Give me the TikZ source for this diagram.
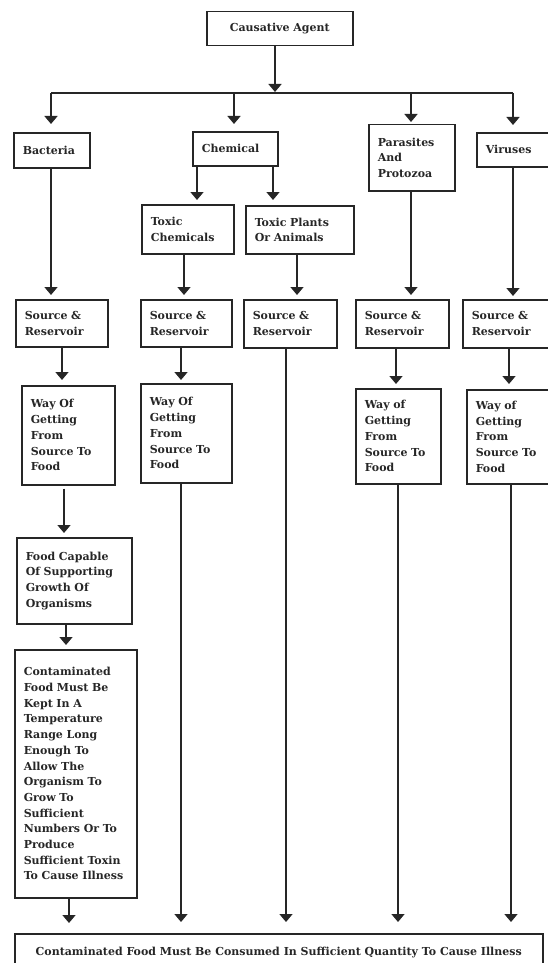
\documentclass[tikz,border=0pt]{standalone}
\usepackage{fontspec}
\setmainfont{DejaVu Serif}
\usetikzlibrary{arrows.meta}
\begin{document}
\begin{tikzpicture}[x=1pt,y=-1pt,
  box/.style={draw=black!85,line width=1.5pt,rectangle,inner xsep=9pt,inner ysep=3pt,
    align=left,font=\fontsize{11}{15.7}\selectfont\bfseries,text=black!85},
  arr/.style={draw=black!85,line width=1.5pt,-{Triangle[width=13pt,length=8pt]}},
  ln/.style={draw=black!85,line width=1.5pt}]
\useasboundingbox[fill=white] (0,0) rectangle (547,963);
\newcommand\bx[6]{%
  \pgfmathsetmacro\mybw{#4-#2}\pgfmathsetmacro\mybh{#5-#3}\pgfmathsetmacro\mytw{#4-#2-18}%
  \node[box,minimum width=\mybw pt,minimum height=\mybh pt,text width=\mytw pt,anchor=north west] (#1) at (#2,#3) {#6};}
% boxes
\node[box,align=center,minimum width=146pt,minimum height=34pt,anchor=north west] (ca) at (206,11) {Causative Agent};
\bx{bac}{13}{132}{89}{167}{Bacteria}
\bx{chem}{192}{131}{277}{165}{Chemical}
\bx{para}{368}{124}{454}{190}{Parasites\\And\\Protozoa}
\bx{vir}{476}{132}{565}{166}{Viruses}
\bx{tc}{141}{204}{233}{253}{Toxic\\Chemicals}
\bx{tp}{245}{205}{353}{253}{Toxic Plants\\Or Animals}
\bx{sra}{15}{299}{107}{346}{Source \&\\Reservoir}
\bx{srb}{140}{299}{231}{346}{Source \&\\Reservoir}
\bx{src}{243}{299}{336}{347}{Source \&\\Reservoir}
\bx{srd}{355}{299}{448}{347}{Source \&\\Reservoir}
\bx{sre}{462}{299}{565}{347}{Source \&\\Reservoir}
\bx{wa}{21}{385}{114}{484}{Way Of\\Getting\\From\\Source To\\Food}
\bx{wb}{140}{383}{231}{482}{Way Of\\Getting\\From\\Source To\\Food}
\bx{wd}{355}{388}{440}{483}{Way of\\Getting\\From\\Source To\\Food}
\bx{we}{466}{389}{565}{483}{Way of\\Getting\\From\\Source To\\Food}
\bx{food}{16}{537}{131}{623}{Food Capable\\Of Supporting\\Growth Of\\Organisms}
\bx{cont}{14}{649}{136}{897}{Contaminated\\Food Must Be\\Kept In A\\Temperature\\Range Long\\Enough To\\Allow The\\Organism To\\Grow To\\Sufficient\\Numbers Or To\\Produce\\Sufficient Toxin\\To Cause Illness}
\node[box,align=center,minimum width=528pt,minimum height=38pt,anchor=north west] (bot) at (14,933) {Contaminated Food Must Be Consumed In Sufficient Quantity To Cause Illness};
% bus
\coordinate (busl) at (51,93);
\coordinate (busr) at (513,93);
\draw[ln] (busl) -- (busr);
\draw[arr,shorten >=1pt] (ca.south -| 275,0) -- (275,0 |- busl);
\draw[arr,shorten >=8pt] (busl) -- (51,0 |- bac.north);
\draw[arr,shorten >=7pt] (234,0 |- busl) -- (234,0 |- chem.north);
\draw[arr,shorten >=2pt] (411,0 |- busl) -- (411,0 |- para.north);
\draw[arr,shorten >=7pt] (busr) -- (513,0 |- vir.north);
% chemical
\draw[arr,shorten >=4pt] (chem.south -| 197,0) -- (197,0 |- tc.north);
\draw[arr,shorten >=5pt] (chem.south -| 273,0) -- (273,0 |- tp.north);
% to source boxes
\draw[arr,shorten >=4pt] (bac.south -| 51,0) -- (51,0 |- sra.north);
\draw[arr,shorten >=4pt] (tc.south -| 184,0) -- (184,0 |- srb.north);
\draw[arr,shorten >=4pt] (tp.south -| 297,0) -- (297,0 |- src.north);
\draw[arr,shorten >=4pt] (para.south -| 411,0) -- (411,0 |- srd.north);
\draw[arr,shorten >=3pt] (vir.south -| 513,0) -- (513,0 |- sre.north);
% to way boxes
\draw[arr,shorten >=5pt] (sra.south -| 62,0) -- (62,0 |- wa.north);
\draw[arr,shorten >=3pt] (srb.south -| 181,0) -- (181,0 |- wb.north);
\draw[arr,shorten >=4pt] (srd.south -| 396,0) -- (396,0 |- wd.north);
\draw[arr,shorten >=5pt] (sre.south -| 509,0) -- (509,0 |- we.north);
% bacteria chain
\draw[arr,shorten <=3pt,shorten >=4pt] (wa.south -| 64,0) -- (64,0 |- food.north);
\draw[arr,shorten >=4pt] (food.south -| 66,0) -- (66,0 |- cont.north);
% to bottom
\draw[arr,shorten >=10pt] (cont.south -| 69,0) -- (69,0 |- bot.north);
\draw[arr,shorten >=11pt] (wb.south -| 181,0) -- (181,0 |- bot.north);
\draw[arr,shorten >=11pt] (src.south -| 286,0) -- (286,0 |- bot.north);
\draw[arr,shorten >=11pt] (wd.south -| 398,0) -- (398,0 |- bot.north);
\draw[arr,shorten >=11pt] (we.south -| 511,0) -- (511,0 |- bot.north);
\end{tikzpicture}
\end{document}
